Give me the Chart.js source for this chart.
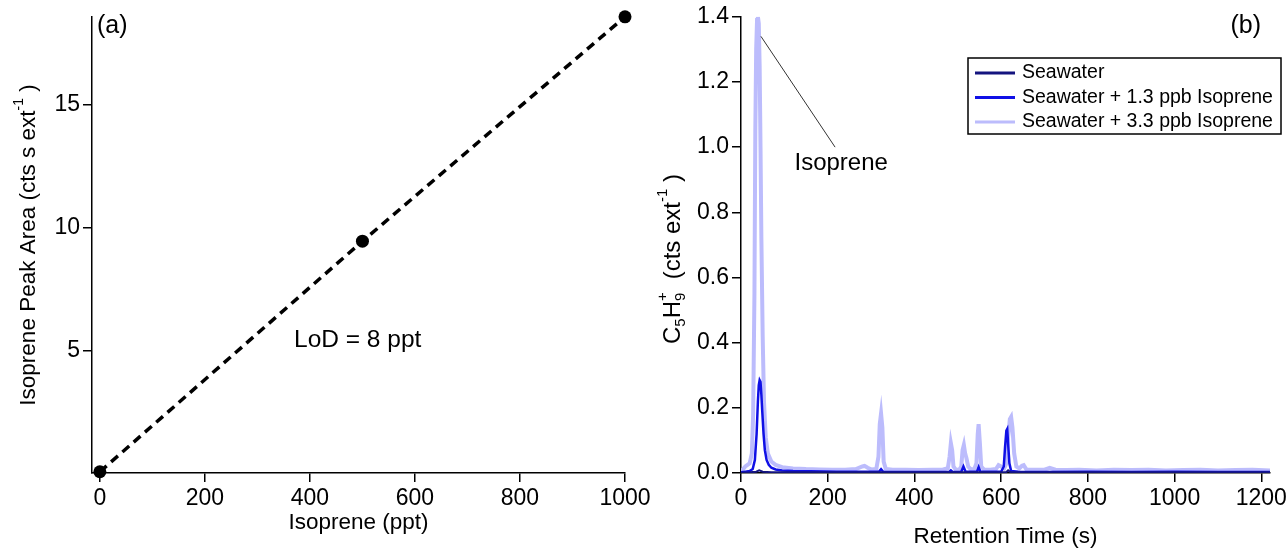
<!DOCTYPE html>
<html lang="en">
<head>
<meta charset="UTF-8">
<title>Isoprene calibration and seawater chromatograms</title>
<script src="https://cdn.jsdelivr.net/npm/chart.js"></script>
<style>
    * { margin: 0; padding: 0; box-sizing: border-box; }
    body { background: #fff; width: 1287px; height: 550px; position: relative; overflow: hidden; }
    .panel { position: absolute; top: 0; height: 550px; }
    #panelA { left: 0; width: 660px; }
    #panelB { left: 640px; width: 660px; }
</style>
</head>
<body>
<div class="panel" id="panelA"><canvas id="chartA" width="660" height="550"></canvas></div>
<div class="panel" id="panelB"><canvas id="chartB" width="660" height="550"></canvas></div>
<script>
// ---------- panel (a): calibration ----------
const calibConc = [0, 500, 1000];          // isoprene, ppt
const calibArea = [0.05, 9.45, 18.6];      // peak area, cts s ext^-1
const calibXTicks = [0, 200, 400, 600, 800, 1000];
const calibYTicks = [5, 10, 15];

// ---------- panel (b): chromatograms ----------
const seriesNames = ['Seawater', 'Seawater + 1.3 ppb Isoprene', 'Seawater + 3.3 ppb Isoprene'];

const seaTime = [0, 20, 35, 42, 50, 70, 300, 500, 612, 616, 622, 700, 1000, 1220];
const seaSignal = [0.001, 0.002, 0.004, 0.008, 0.004, 0.002, 0.002, 0.002, 0.003, 0.008, 0.002, 0.002, 0.002, 0.002];

const lowTime = [0, 10, 20, 27, 32, 36, 39, 41, 43, 45, 47, 49, 52, 55, 59, 64, 70, 80, 95, 120,
    160, 220, 280, 318, 323, 328, 400, 480, 484, 488, 508, 513, 518, 544, 548, 552, 600, 606, 609, 612,
    614, 616, 619, 623, 640, 700, 800, 900, 1000, 1100, 1220];
const lowSignal = [0.002, 0.004, 0.006, 0.012, 0.04, 0.12, 0.22, 0.27, 0.285, 0.28, 0.24, 0.19, 0.12, 0.07, 0.04, 0.025, 0.016, 0.011, 0.008, 0.006,
    0.005, 0.004, 0.004, 0.004, 0.012, 0.004, 0.003, 0.003, 0.008, 0.003, 0.004, 0.02, 0.004, 0.004, 0.018, 0.004, 0.004, 0.02, 0.08, 0.13,
    0.135, 0.09, 0.03, 0.006, 0.004, 0.003, 0.004, 0.003, 0.004, 0.003, 0.003];

const highTime = [0, 5, 10, 15, 20, 25, 28, 31, 33, 35, 37, 39, 41, 43, 45, 47, 50, 53, 57, 62,
    70, 80, 95, 120, 150, 180, 210, 240, 265, 280, 285, 292, 300, 312, 317, 320, 323, 326, 329, 334,
    350, 380, 410, 440, 465, 477, 481, 484, 487, 490, 495, 503, 508, 511, 514, 517, 520, 524, 530, 538,
    543, 546, 548, 551, 554, 560, 575, 588, 594, 600, 607, 612, 616, 620, 623, 626, 630, 635, 642, 648,
    652, 658, 675, 700, 712, 725, 750, 780, 820, 860, 900, 940, 980, 1020, 1060, 1100, 1140, 1180, 1220];
const highSignal = [0.005, 0.012, 0.02, 0.025, 0.03, 0.06, 0.18, 0.55, 1.05, 1.3, 1.39, 1.40, 1.38, 1.25, 1.0, 0.72, 0.42, 0.22, 0.11, 0.06,
    0.035, 0.025, 0.018, 0.014, 0.012, 0.011, 0.01, 0.01, 0.012, 0.02, 0.022, 0.016, 0.011, 0.012, 0.05, 0.15, 0.183, 0.14, 0.035, 0.012,
    0.01, 0.01, 0.009, 0.01, 0.01, 0.015, 0.05, 0.092, 0.07, 0.02, 0.011, 0.01, 0.02, 0.07, 0.086, 0.06, 0.045, 0.02, 0.011, 0.012,
    0.03, 0.12, 0.15, 0.09, 0.02, 0.011, 0.01, 0.012, 0.024, 0.02, 0.014, 0.03, 0.11, 0.165, 0.172, 0.14, 0.06, 0.02, 0.014, 0.022,
    0.024, 0.011, 0.01, 0.01, 0.016, 0.01, 0.009, 0.01, 0.008, 0.01, 0.009, 0.01, 0.008, 0.009, 0.01, 0.008, 0.009, 0.01, 0.008];

const chromXTicks = [0, 200, 400, 600, 800, 1000, 1200];
const chromYTicks = [0, 0.2, 0.4, 0.6, 0.8, 1.0, 1.2, 1.4];

const FONT = "'Liberation Sans', Arial, sans-serif";
Chart.defaults.font.family = FONT;
Chart.defaults.color = '#000';

const toPoints = (xs, ys) => xs.map((x, i) => ({ x: x, y: ys[i] }));

// Igor-style axis: plain black border, ticks outside, no grid
function axis(tickValues, min, max, size, fmt) {
    return {
        type: 'linear',
        min: min,
        max: max,
        afterBuildTicks: s => { s.ticks = tickValues.map(v => ({ value: v })); },
        afterFit: s => { if (s.isHorizontal()) s.height = size; else s.width = size; },
        grid: { drawOnChartArea: false, drawTicks: true, tickLength: 9, color: '#000', lineWidth: 1.5 },
        border: { display: true, color: '#000', width: 1.5 },
        ticks: { font: { size: 23 }, color: '#000', padding: 3, callback: fmt || (v => v) }
    };
}

// text with sub/superscripts, optionally rotated
function drawRich(ctx, parts, x, y, size, rotate) {
    ctx.save();
    ctx.translate(x, y);
    if (rotate) ctx.rotate(-Math.PI / 2);
    const small = Math.round(size * 0.62);
    const setFont = p => { ctx.font = (p.sub || p.sup ? small : size) + 'px ' + FONT; };
    let total = 0;
    parts.forEach(p => { setFont(p); total += ctx.measureText(p.t).width; });
    let cx = -total / 2;
    ctx.fillStyle = '#000';
    ctx.textAlign = 'left';
    ctx.textBaseline = 'middle';
    parts.forEach(p => {
        setFont(p);
        const w = ctx.measureText(p.t).width;
        const dy = p.sub ? size * 0.32 : (p.sup ? -size * 0.42 : 0);
        ctx.fillText(p.t, cx, dy);
        if (p.over) ctx.fillText(p.over, cx, -size * 0.42);
        cx += w;
    });
    ctx.restore();
}

function drawText(ctx, text, x, y, size, align) {
    ctx.save();
    ctx.font = size + 'px ' + FONT;
    ctx.fillStyle = '#000';
    ctx.textAlign = align || 'left';
    ctx.textBaseline = 'middle';
    ctx.fillText(text, x, y);
    ctx.restore();
}

// ---------- chart (a) ----------
const decorA = {
    id: 'decorA',
    afterDraw(chart) {
        const ctx = chart.ctx;
        drawRich(ctx, [{ t: 'Isoprene Peak Area (cts s ext' }, { t: '-1', sup: true }, { t: ' )' }], 29, 245, 22.5, true);
        drawText(ctx, '(a)', 97, 26, 25);
        drawText(ctx, 'LoD = 8 ppt', 294, 340, 24.5);
    }
};

new Chart(document.getElementById('chartA'), {
    type: 'scatter',
    data: {
        datasets: [{
            data: toPoints(calibConc, calibArea),
            showLine: true,
            borderColor: '#000',
            borderWidth: 3.5,
            borderDash: [9, 6],
            pointRadius: 6.5,
            pointBackgroundColor: '#000',
            pointBorderWidth: 0,
            clip: false
        }]
    },
    options: {
        responsive: false,
        animation: false,
        layout: { padding: { left: 0, right: 35, top: 14, bottom: 0 } },
        plugins: { legend: { display: false }, tooltip: { enabled: false } },
        scales: {
            x: Object.assign(axis(calibXTicks, -15, 1000, 77), {
                title: { display: true, text: 'Isoprene (ppt)', font: { size: 22.5 }, padding: { top: 0, bottom: 14 } }
            }),
            y: axis(calibYTicks, 0, 18.6, 92)
        }
    },
    plugins: [decorA]
});

// ---------- chart (b) ----------
const isoLeader = { fromT: 46, fromY: 1.34, toT: 217, toY: 1.0 };
const isoLabel = { t: 231, y: 0.95 };

const decorB = {
    id: 'decorB',
    afterDraw(chart) {
        const ctx = chart.ctx;
        const xs = chart.scales.x, ys = chart.scales.y;
        drawRich(ctx, [{ t: 'C' }, { t: '5', sub: true }, { t: 'H' }, { t: '9', sub: true, over: '+' },
            { t: '  (cts ext' }, { t: '-1', sup: true }, { t: ' )' }], 33, 259, 24, true);
        drawText(ctx, '(b)', 621, 26, 25, 'right');

        // leader line and label for the isoprene peak
        ctx.save();
        ctx.strokeStyle = '#333';
        ctx.lineWidth = 1;
        ctx.beginPath();
        ctx.moveTo(xs.getPixelForValue(isoLeader.fromT), ys.getPixelForValue(isoLeader.fromY));
        ctx.lineTo(xs.getPixelForValue(isoLeader.toT), ys.getPixelForValue(isoLeader.toY));
        ctx.stroke();
        ctx.restore();
        drawText(ctx, 'Isoprene', xs.getPixelForValue(isoLabel.t), ys.getPixelForValue(isoLabel.y), 24, 'center');

        // boxed legend
        const bx = 328, by = 58, bw = 313, bh = 76;
        ctx.save();
        ctx.fillStyle = '#fff';
        ctx.fillRect(bx, by, bw, bh);
        ctx.strokeStyle = '#000';
        ctx.lineWidth = 1.5;
        ctx.strokeRect(bx, by, bw, bh);
        chart.data.datasets.forEach((ds, i) => {
            const ry = by + 15 + i * 24.5;
            ctx.strokeStyle = ds.borderColor;
            ctx.lineWidth = 3;
            ctx.beginPath();
            ctx.moveTo(bx + 7, ry);
            ctx.lineTo(bx + 47, ry);
            ctx.stroke();
            drawText(ctx, ds.label, bx + 54, ry, 19.5);
        });
        ctx.restore();
    }
};

new Chart(document.getElementById('chartB'), {
    type: 'line',
    data: {
        datasets: [
            { label: seriesNames[0], data: toPoints(seaTime, seaSignal), borderColor: '#14147f', borderWidth: 2 },
            { label: seriesNames[1], data: toPoints(lowTime, lowSignal), borderColor: '#1010e6', borderWidth: 2.5 },
            { label: seriesNames[2], data: toPoints(highTime, highSignal), borderColor: '#bcbcfc', borderWidth: 4 }
        ]
    },
    options: {
        responsive: false,
        animation: false,
        parsing: false,
        elements: { point: { radius: 0 }, line: { tension: 0 } },
        layout: { padding: { left: 0, right: 30, top: 14, bottom: 0 } },
        plugins: { legend: { display: false }, tooltip: { enabled: false } },
        scales: {
            x: Object.assign(axis(chromXTicks, 0, 1220, 77), {
                title: { display: true, text: 'Retention Time (s)', font: { size: 22.5 }, padding: { top: 0, bottom: 0 } }
            }),
            y: axis(chromYTicks, 0, 1.4, 101, v => v.toFixed(1))
        }
    },
    plugins: [decorB]
});
</script>
</body>
</html>
